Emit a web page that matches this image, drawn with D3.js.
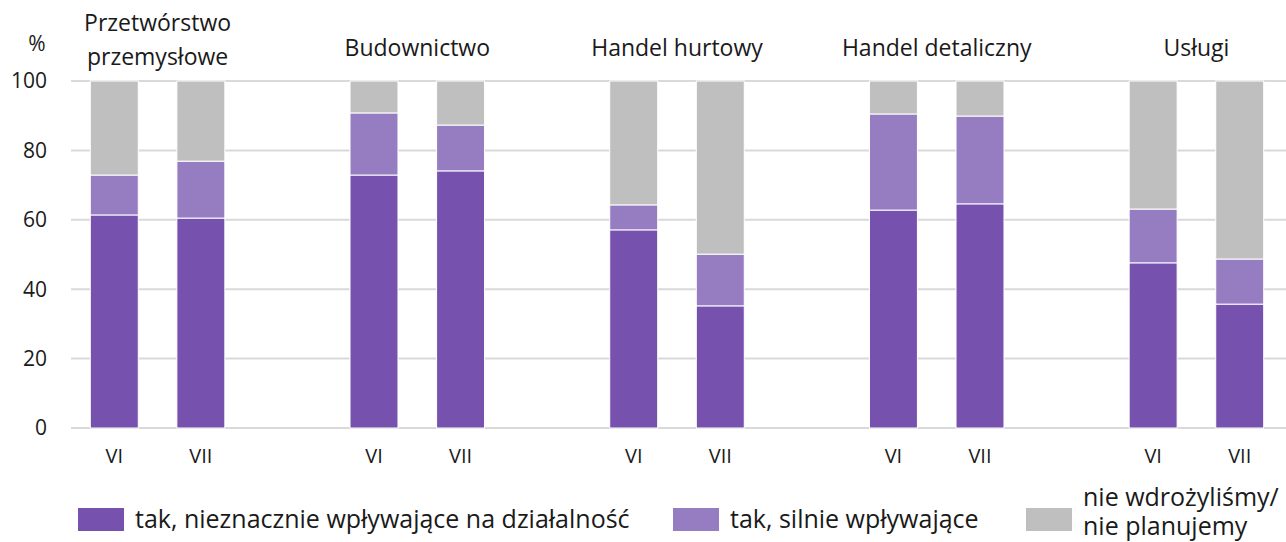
<!DOCTYPE html>
<html>
<head>
<meta charset="utf-8">
<script src="https://cdn.jsdelivr.net/npm/d3@7"></script>
<style>
  body { margin: 0; background: #fff; }
  svg text { font-family: "Open Sans", "Noto Sans", sans-serif; fill: #1a1a1a; }
</style>
</head>
<body>
<svg id="chart"></svg>
<script>
// ── DATA ────────────────────────────────────────────────────────────────
const sectors   = ["Przetwórstwo przemysłowe", "Budownictwo", "Handel hurtowy", "Handel detaliczny", "Usługi"];
const months    = ["VI", "VII"];
const seriesNames = ["tak, nieznacznie wpływające na działalność", "tak, silnie wpływające", "nie wdrożyliśmy/ nie planujemy"];
// per sector: [VI, VII]
const slight = [[61.4, 60.5], [72.9, 74.1], [57.1, 35.2], [62.8, 64.6], [47.6, 35.7]];
const strong = [[11.5, 16.4], [17.9, 13.2], [7.2, 14.9], [27.7, 25.3], [15.5, 13.0]];
const yTicks = [0, 20, 40, 60, 80, 100];

const COLORS = ["#7651ae", "#967cc0", "#bfbfbf"];

// ── DIMENSIONS ──────────────────────────────────────────────────────────
const W = 1286, H = 542;
const x0 = 71, x1 = 1283, yTop = 81, yBot = 428;

const svg = d3.select("#chart").attr("width", W).attr("height", H);

// build rows: VI, VII, gap, ...
const rows = [];
sectors.forEach((s, i) => {
  months.forEach((m, j) => {
    const a = slight[i][j], b = strong[i][j];
    rows.push({ key: `${i}-${m}`, sector: i, month: m, s0: a, s1: b, s2: 100 - a - b });
  });
  if (i < sectors.length - 1) rows.push({ key: `gap-${i}`, gap: true });
});

const x = d3.scaleBand()
  .domain(rows.map(d => d.key))
  .range([x0, x1])
  .paddingInner(0.446)
  .paddingOuter(0.223);

const y = d3.scaleLinear().domain([0, 100]).range([yBot, yTop]);

// ── GRID ────────────────────────────────────────────────────────────────
svg.append("g")
  .selectAll("line")
  .data(yTicks)
  .join("line")
    .attr("x1", x0).attr("x2", W)
    .attr("y1", d => y(d)).attr("y2", d => y(d))
    .attr("stroke", "#d9d9d9")
    .attr("stroke-width", 2);

svg.append("g")
  .selectAll("text")
  .data(yTicks)
  .join("text")
    .attr("x", 47)
    .attr("y", d => y(d))
    .attr("dy", "0.35em")
    .attr("text-anchor", "end")
    .style("font-size", "21px")
    .text(d => d);

svg.append("text")
  .attr("x", 37).attr("y", 44).attr("dy", "0.35em")
  .attr("text-anchor", "middle")
  .style("font-size", "21px")
  .text("%");

// ── BARS ────────────────────────────────────────────────────────────────
const stack = d3.stack().keys(["s0", "s1", "s2"]);
const data = rows.filter(d => !d.gap);
const layers = stack(data);

svg.append("g")
  .selectAll("g")
  .data(layers)
  .join("g")
    .attr("fill", (d, i) => COLORS[i])
  .selectAll("rect")
  .data(d => d)
  .join("rect")
    .attr("x", d => x(d.data.key))
    .attr("width", x.bandwidth())
    .attr("y", d => y(d[1]))
    .attr("height", d => y(d[0]) - y(d[1]))
    .attr("stroke", "#fff")
    .attr("stroke-width", 1);

// ── X LABELS ────────────────────────────────────────────────────────────
svg.append("g")
  .selectAll("text")
  .data(data)
  .join("text")
    .attr("x", d => x(d.key) + x.bandwidth() / 2)
    .attr("y", 456)
    .attr("dy", "0.35em")
    .attr("text-anchor", "middle")
    .style("font-size", "20px")
    .text(d => d.month);

// ── SECTOR TITLES ───────────────────────────────────────────────────────
sectors.forEach((s, i) => {
  const cx = (x(`${i}-VI`) + x(`${i}-VII`) + x.bandwidth()) / 2;
  const lines = i === 0 ? ["Przetwórstwo", "przemysłowe"] : [s];
  const t = svg.append("text")
    .attr("x", cx).attr("y", i === 0 ? 31 : 56)
    .attr("text-anchor", "middle")
    .style("font-size", "23px");
  lines.forEach((l, k) => {
    t.append("tspan").attr("x", cx).attr("dy", k === 0 ? 0 : 34).text(l);
  });
});

// ── LEGEND ──────────────────────────────────────────────────────────────
const legendPos = [78, 673, 1026];
seriesNames.forEach((name, i) => {
  const lg = svg.append("g").attr("transform", `translate(${legendPos[i]},508)`);
  lg.append("rect").attr("width", 46).attr("height", 23).attr("fill", COLORS[i]);
  const parts = i === 2 ? ["nie wdrożyliśmy/", "nie planujemy"] : [name];
  const t = lg.append("text")
    .attr("x", 57)
    .attr("y", parts.length === 1 ? 20 : -2)
    .style("font-size", "25px");
  parts.forEach((p, k) => {
    t.append("tspan").attr("x", 57).attr("dy", k === 0 ? 0 : 29).text(p);
  });
});
</script>
</body>
</html>
